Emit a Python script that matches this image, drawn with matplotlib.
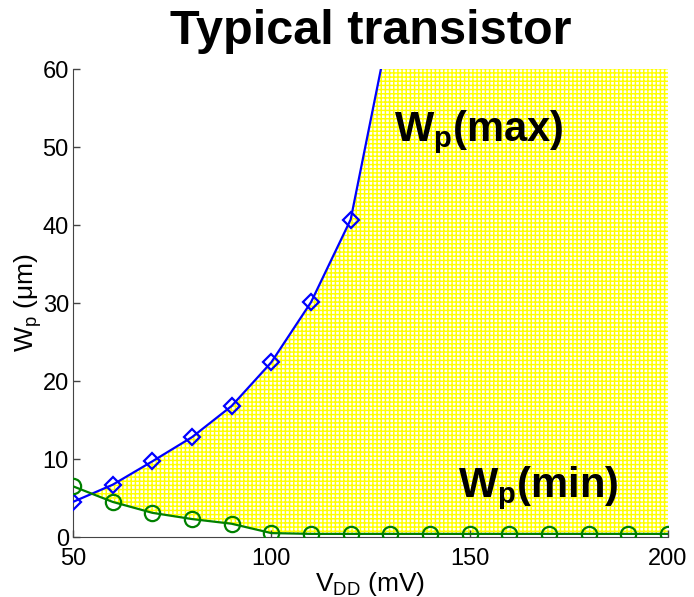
import numpy as np
import matplotlib
matplotlib.use('Agg')
import matplotlib.pyplot as plt

plt.rcParams['font.family'] = ['Liberation Sans', 'DejaVu Sans']
plt.rcParams['mathtext.fontset'] = 'custom'
plt.rcParams['mathtext.rm'] = 'Liberation Sans'
plt.rcParams['mathtext.bf'] = 'Liberation Sans:bold'
plt.rcParams['mathtext.default'] = 'regular'
plt.rcParams['hatch.linewidth'] = 1.05

# data
vdd_max = [50, 60, 70, 80, 90, 100, 110, 120, 130]
wp_max = [4.5, 6.7, 9.7, 12.8, 16.8, 22.4, 30.1, 40.7, 66.0]
vdd = [50, 60, 70, 80, 90, 100, 110, 120, 130, 140, 150, 160, 170, 180, 190, 200]
wp_min = [6.5, 4.5, 3.1, 2.3, 1.7, 0.5, 0.4, 0.4, 0.4, 0.4, 0.4, 0.4, 0.4, 0.4, 0.4, 0.4]

x_min, x_max = 50, 200
y_min, y_max = 0, 60

fig = plt.figure(figsize=(6.94, 5.97), dpi=100)
ax = fig.add_axes([73/694, 1-537/597, 595/694, 468/597])

# feasible region between the two curves
x = np.array(vdd, dtype=float)
lo = np.array(wp_min)
hi = np.interp(x, vdd_max, wp_max, right=y_max)
ax.fill_between(x, lo, hi, where=hi >= lo, interpolate=True,
                facecolor='white', edgecolor='#ffff00', hatch='++++',
                linewidth=0, zorder=1)

ax.plot(vdd_max, wp_max, '-', color='#0000ff', lw=1.6, marker='D', ms=8.5,
        mfc='none', mew=1.6, markevery=list(range(8)), zorder=3)
ax.plot(vdd, wp_min, '-', color='#008000', lw=1.6, marker='o', ms=11,
        mfc='none', mew=1.6, zorder=3)

ax.text(131, 50.8, r'$\mathbf{W_p}$(max)', fontsize=30, fontweight='bold')
ax.text(147, 5.1, r'$\mathbf{W_p}$(min)', fontsize=30, fontweight='bold')

ax.set_xlim(x_min, x_max)
ax.set_ylim(y_min, y_max)
ax.set_xticks([50, 100, 150, 200])
ax.set_yticks(np.arange(0, 61, 10))
ax.tick_params(direction='in', length=5, width=1, labelsize=17, color='#444444')
ax.tick_params(axis='x', pad=8)
ax.tick_params(axis='y', pad=3)
for s in ['top', 'right']:
    ax.spines[s].set_visible(False)
for s in ['left', 'bottom']:
    ax.spines[s].set_color('#444444')

ax.set_title('Typical transistor', fontsize=35, fontweight='bold', pad=18)
ax.set_xlabel(r'$V_{DD}$ (mV)', fontsize=19)
ax.set_ylabel(r'$W_p$ ($\mu$m)', fontsize=19)
ax.xaxis.set_label_coords(0.5, -0.07)
ax.yaxis.set_label_coords(-0.048, 0.5)

fig.savefig('out.png', dpi=100)
